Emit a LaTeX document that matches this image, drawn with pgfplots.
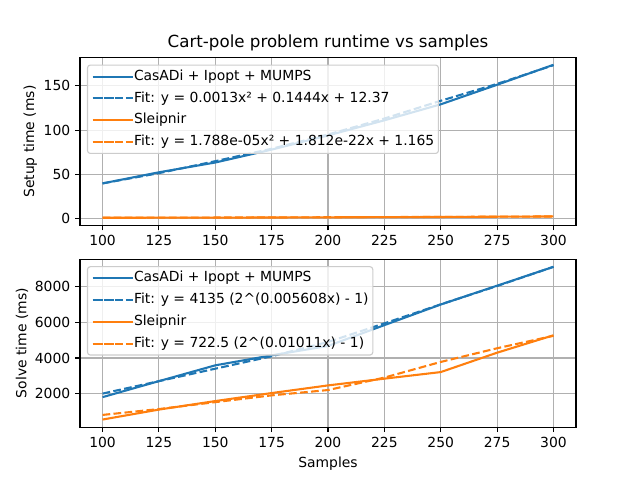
\documentclass[border=0pt]{standalone}
\usepackage{fontspec}
\setmainfont{DejaVu Sans}
\usepackage{pgfplots}
\pgfplotsset{compat=1.18}
\definecolor{mplblue}{HTML}{1F77B4}
\definecolor{mplorange}{HTML}{FF7F0E}
\definecolor{mplgrid}{HTML}{B0B0B0}

\pgfplotsset{
  runtime/.style={
    scale only axis,
    width=357.12pt,
    height=120.96pt,
    xmin=90, xmax=310,
    xtick={100,125,...,300},
    tick pos=left,
    tick align=outside,
    major tick length=3.5pt,
    every tick/.style={black, line width=0.8pt},
    axis line style={line width=0.8pt},
    grid=major,
    grid style={mplgrid, line width=0.8pt},
    ticklabel style={font=\fontsize{10}{12}\selectfont},
    label style={font=\fontsize{10}{12}\selectfont},
    ylabel shift=-2pt,
    /pgf/number format/assume math mode=true,
    /pgf/number format/1000 sep={},
    legend cell align=left,
    legend style={
      at={(0,1)}, anchor=north west, xshift=5pt, yshift=-5pt,
      draw=black!20, line width=0.8pt, rounded corners=2pt,
      fill=white, fill opacity=0.8, text opacity=1, draw opacity=1,
      inner sep=3pt, row sep=5.2pt,
      font=\fontsize{10}{12}\selectfont,
      nodes={inner sep=0pt, text height=8pt, text depth=2.5pt},
    },
    legend image code/.code={
      \path (-2pt,0pt) -- (27pt,0pt);
      \draw[#1] (0pt,0pt) -- (20pt,0pt);
    },
  },
  solidline/.style={line width=1.5pt},
  fitline/.style={line width=1.5pt, dash pattern=on 5.55pt off 2.4pt},
}

\begin{document}
\begin{tikzpicture}
\path[use as bounding box] (0,0) rectangle (460.8pt,345.6pt);

% setup time
\begin{axis}[runtime,
  at={(57.6pt,183.17pt)}, anchor=south west,
  ymin=-7.5, ymax=181.6,
  ytick={0,50,100,150},
  ylabel={Setup time (ms)},
  title={Cart-pole problem runtime vs samples},
  title style={font=\fontsize{12}{14}\selectfont, yshift=-5pt},
]
\addplot[mplblue, solidline] coordinates {
  (100,40) (125,52.5) (150,63.5) (175,78) (200,94) (225,111) (250,129) (275,151) (300,173.5)
};
\addlegendentry{CasADi + Ipopt + MUMPS}
\addplot[mplblue, fitline] coordinates {
  (100,40) (125,51.5) (150,65) (175,79) (200,95) (225,113) (250,133) (275,152) (300,173)
};
\addlegendentry{Fit: y = 0.0013x² + 0.1444x + 12.37}
\addplot[mplorange, solidline] coordinates {
  (100,1.3) (125,1.4) (150,1.5) (175,1.6) (200,1.8) (225,2.0) (250,2.2) (275,2.5) (300,2.8)
};
\addlegendentry{Sleipnir}
\addplot[mplorange, fitline] coordinates {
  (100,1.344) (125,1.444) (150,1.567) (175,1.713) (200,1.880) (225,2.070) (250,2.282) (275,2.517) (300,2.774)
};
\addlegendentry{Fit: y = 1.788e-05x² + 1.812e-22x + 1.165}
\end{axis}

% solve time
\begin{axis}[runtime,
  at={(57.6pt,38.02pt)}, anchor=south west,
  ymin=110, ymax=9560,
  ytick={2000,4000,6000,8000},
  ylabel={Solve time (ms)},
  xlabel={Samples},
]
\addplot[mplblue, solidline] coordinates {
  (100,1800) (125,2700) (150,3590) (175,4150) (200,4680) (225,5850) (250,7010) (275,8070) (300,9130)
};
\addlegendentry{CasADi + Ipopt + MUMPS}
\addplot[mplblue, fitline] coordinates {
  (100,2000) (125,2700) (150,3400) (175,4100) (200,4900) (225,5950) (250,7020) (275,8050) (300,9130)
};
\addlegendentry{Fit: y = 4135 (2\^{}(0.005608x) - 1)}
\addplot[mplorange, solidline] coordinates {
  (100,540) (125,1100) (150,1580) (175,2030) (200,2460) (225,2840) (250,3210) (275,4300) (300,5280)
};
\addlegendentry{Sleipnir}
\addplot[mplorange, fitline] coordinates {
  (100,800) (125,1130) (150,1520) (175,1900) (200,2200) (225,2900) (250,3780) (275,4550) (300,5250)
};
\addlegendentry{Fit: y = 722.5 (2\^{}(0.01011x) - 1)}
\end{axis}
\end{tikzpicture}
\end{document}
